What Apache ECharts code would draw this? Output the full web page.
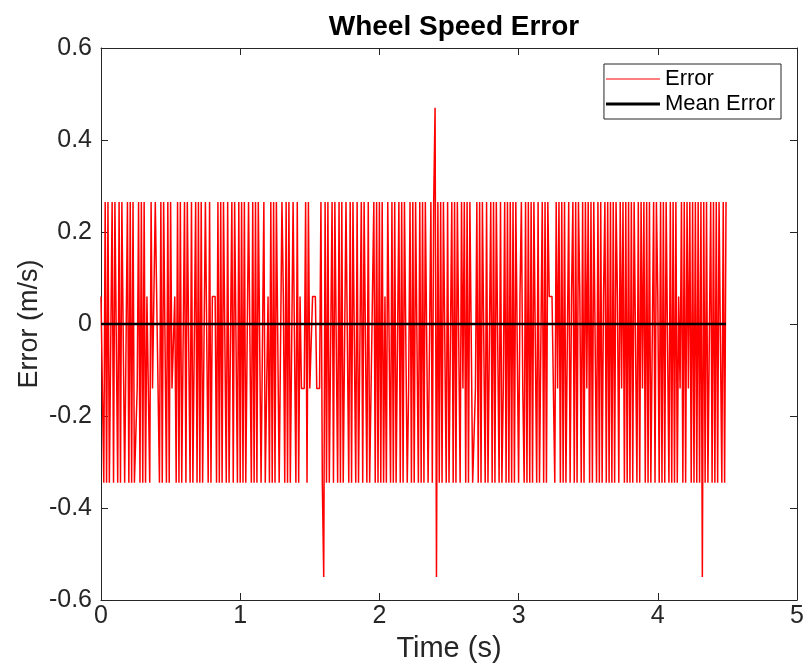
<!DOCTYPE html>
<html>
<head>
<meta charset="utf-8">
<script src="https://cdn.jsdelivr.net/npm/echarts@6/dist/echarts.min.js"></script>
<style>html,body{margin:0;padding:0;background:#fff;}#c{width:807px;height:664px;}</style>
</head>
<body>
<div id="c"></div>
<script>
const dt = 0.01;
const xTicks = [0, 1, 2, 3, 4, 5];
const yTicks = [-0.6, -0.4, -0.2, 0, 0.2, 0.4, 0.6];
const errorValues = [
0.06,0.06,-0.345,0.265,-0.345,0.265,-0.345,-0.345,0.265,-0.345,
0.265,0.265,-0.345,0.265,-0.345,0.265,0.265,-0.345,-0.345,0.265,
-0.345,0.265,-0.345,0.265,-0.345,-0.345,-0.14,0.265,-0.345,0.265,
-0.345,0.265,-0.345,0.06,0.06,-0.345,0.265,-0.14,-0.14,0.265,
0.06,0.06,-0.345,0.265,-0.345,0.265,0.265,-0.345,0.265,-0.345,
0.265,-0.14,-0.14,0.06,-0.345,0.265,-0.345,0.265,-0.345,-0.345,
0.265,-0.345,0.265,0.265,-0.345,0.265,-0.345,-0.345,0.265,-0.345,
0.265,-0.345,0.265,-0.345,-0.345,0.265,0.265,-0.345,0.265,-0.345,
0.06,0.06,0.06,-0.345,0.265,-0.345,0.265,-0.345,0.265,0.265,
-0.345,0.265,-0.345,-0.345,0.265,-0.345,0.265,0.265,-0.345,0.265,
-0.345,0.265,-0.345,0.265,-0.345,-0.345,0.265,0.265,-0.345,0.265,
-0.345,0.265,-0.345,0.265,0.265,-0.345,-0.345,0.265,-0.345,-0.14,
0.06,-0.345,0.265,-0.345,0.265,-0.345,0.265,0.265,-0.345,-0.345,
0.265,0.06,-0.345,0.265,-0.345,0.265,-0.345,-0.345,0.265,0.265,
-0.345,0.265,-0.345,0.06,-0.14,-0.14,-0.14,0.265,-0.345,0.265,
-0.14,-0.14,0.06,0.06,0.06,-0.14,-0.14,-0.14,0.265,-0.345,
-0.55,0.265,-0.345,0.265,-0.345,-0.345,0.265,-0.345,0.265,0.265,
-0.345,0.265,-0.345,0.265,-0.345,-0.345,0.265,0.265,-0.345,0.265,
-0.345,0.265,0.265,-0.345,0.265,-0.345,-0.345,0.265,-0.345,0.265,
0.265,-0.345,0.265,-0.345,-0.345,0.06,0.265,-0.345,0.265,-0.345,
0.265,-0.345,0.265,-0.345,0.06,-0.345,0.265,0.265,-0.345,0.265,
-0.345,0.265,-0.345,-0.345,0.265,-0.345,0.265,-0.345,0.265,0.265,
-0.345,-0.14,0.265,-0.345,0.265,-0.345,0.265,0.265,-0.345,0.265,
-0.345,0.265,-0.345,0.265,0.265,-0.345,-0.345,0.265,-0.345,0.265,
0.47,-0.55,0.265,-0.345,0.265,-0.345,0.265,0.265,-0.345,0.265,
-0.345,-0.345,0.265,-0.345,0.265,-0.345,0.265,0.265,-0.345,0.265,
-0.14,0.265,-0.345,0.265,-0.345,0.265,0.265,-0.345,-0.345,-0.14,
0.265,-0.345,0.265,-0.345,0.265,0.265,-0.345,0.265,-0.345,-0.345,
0.265,-0.345,0.265,-0.345,0.265,0.265,-0.345,0.265,-0.345,-0.14,
0.265,-0.345,0.265,-0.345,0.265,-0.345,0.265,-0.345,0.265,0.265,
-0.345,0.06,0.265,-0.14,-0.345,0.265,-0.345,0.265,-0.345,0.265,
-0.345,0.265,0.265,-0.345,0.265,-0.345,-0.345,0.265,-0.345,0.265,
-0.345,0.265,0.06,0.06,0.06,0.06,-0.345,0.265,-0.14,0.265,
-0.345,0.265,-0.345,0.265,-0.345,-0.345,0.265,-0.345,0.06,0.265,
-0.345,0.265,-0.345,0.265,0.06,-0.345,0.265,-0.345,0.265,-0.14,
0.265,-0.345,0.265,-0.345,0.265,0.265,-0.345,0.265,-0.345,0.265,
-0.345,0.06,0.265,-0.345,0.265,-0.345,0.265,-0.345,0.265,-0.345,
0.265,0.06,-0.345,0.265,-0.14,0.265,-0.345,0.265,-0.345,0.265,
-0.345,0.265,-0.345,0.265,0.265,-0.345,0.265,-0.345,0.265,-0.14,
0.265,-0.345,0.265,-0.345,0.265,-0.345,-0.345,0.265,-0.345,0.265,
0.06,-0.345,0.265,-0.345,0.265,-0.345,0.265,0.265,-0.345,0.265,
-0.345,0.265,-0.345,0.265,-0.345,0.06,-0.14,0.265,-0.345,0.265,
-0.345,0.265,-0.14,0.265,-0.345,0.265,-0.345,0.265,-0.345,0.265,
-0.345,0.265,-0.55,0.265,-0.345,0.265,-0.345,-0.345,0.265,-0.345,
0.265,-0.345,0.265,-0.345,0.265,0.265,-0.345,0.265,-0.345,0.265
];
const meanError = 0.0;

const errorData = errorValues.map((v, i) => [+(i * dt).toFixed(2), v]);
const tEnd = +((errorValues.length - 1) * dt).toFixed(2);
const meanData = [[0, meanError], [tEnd, meanError]];

const FONT = 'Liberation Sans, Arial, Helvetica, sans-serif';
const AX = '#262626';
const chart = echarts.init(document.getElementById('c'), null, {renderer: 'canvas'});
chart.setOption({
  animation: false,
  backgroundColor: '#fff',
  title: {
    text: 'Wheel Speed Error', left: 449, top: 8, textAlign: 'center',
    textStyle: {fontFamily: FONT, fontSize: 28, fontWeight: 'bold', color: '#000'}
  },
  legend: {
    orient: 'vertical', right: 26, top: 64,
    backgroundColor: '#fff', borderColor: AX, borderWidth: 1, borderRadius: 0,
    padding: [4, 6, 4, 2], itemGap: 3, itemWidth: 54, itemHeight: 20,
    textStyle: {fontFamily: FONT, fontSize: 22, color: '#000'},
    data: [
      {name: 'Error', icon: 'path://M0,0 H54 V1.2 H0 Z'},
      {name: 'Mean Error', icon: 'path://M0,0 H54 V3 H0 Z'}
    ]
  },
  grid: {left: 101, top: 48, width: 696, height: 552, show: false, outerBoundsMode: 'none', containLabel: false},
  xAxis: [{
    type: 'value', min: 0, max: 5, interval: 1,
    name: 'Time (s)', nameLocation: 'middle', nameGap: 34,
    nameTextStyle: {fontFamily: FONT, fontSize: 29, color: AX},
    axisLine: {show: true, onZero: false, lineStyle: {color: AX, width: 1}},
    axisTick: {show: true, inside: true, length: 7, lineStyle: {color: AX}},
    axisLabel: {fontFamily: FONT, fontSize: 25, color: AX, margin: 4, formatter: v => String(v)},
    splitLine: {show: false}
  }, {
    type: 'value', position: 'top', min: 0, max: 5, interval: 1,
    axisLine: {show: true, onZero: false, lineStyle: {color: AX, width: 1}},
    axisTick: {show: true, inside: true, length: 7, lineStyle: {color: AX}},
    axisLabel: {show: false}, splitLine: {show: false}
  }],
  yAxis: [{
    type: 'value', min: -0.6, max: 0.6, interval: 0.2,
    name: 'Error (m/s)', nameLocation: 'middle', nameGap: 58, nameMoveOverlap: false,
    nameTextStyle: {fontFamily: FONT, fontSize: 27, color: AX},
    axisLine: {show: true, onZero: false, lineStyle: {color: AX, width: 1}},
    axisTick: {show: true, inside: true, length: 7, lineStyle: {color: AX}},
    axisLabel: {fontFamily: FONT, fontSize: 25, color: AX, margin: 9,
      formatter: v => { const r = Math.round(v * 10) / 10; return r === 0 ? '0' : String(r); }},
    splitLine: {show: false}
  }, {
    type: 'value', position: 'right', min: -0.6, max: 0.6, interval: 0.2,
    axisLine: {show: true, onZero: false, lineStyle: {color: AX, width: 1}},
    axisTick: {show: true, inside: true, length: 7, lineStyle: {color: AX}},
    axisLabel: {show: false}, splitLine: {show: false}
  }],
  series: [{
    name: 'Error', type: 'line', data: errorData, symbol: 'none',
    xAxisIndex: 0, yAxisIndex: 0,
    lineStyle: {color: '#ff0000', width: 1.5}, itemStyle: {color: '#ff0000'}
  }, {
    name: 'Mean Error', type: 'line', data: meanData, symbol: 'none',
    xAxisIndex: 0, yAxisIndex: 0,
    lineStyle: {color: '#000', width: 2.5}, itemStyle: {color: '#000'}
  }]
});
</script>
</body>
</html>
